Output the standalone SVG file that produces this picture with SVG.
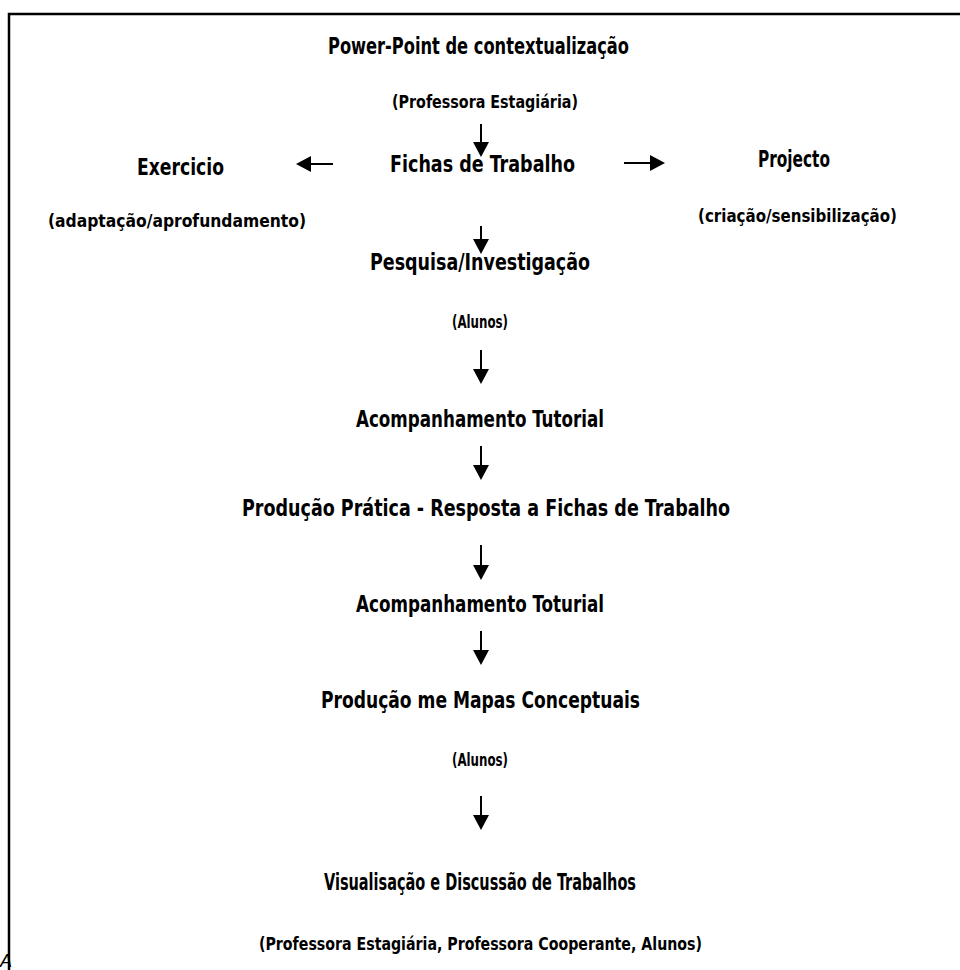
<svg xmlns="http://www.w3.org/2000/svg" width="960" height="970" viewBox="0 0 960 970">
<defs>
<style>
text{font-family:"Liberation Sans Narrow","DejaVu Sans Condensed",sans-serif;font-weight:bold;fill:#000;text-anchor:middle}
.t{font-size:23.5px}
.s{font-size:18px}
.c line{stroke:#000;stroke-width:2}
.c path{fill:#000}
</style>
</defs>
<rect width="960" height="970" fill="#fff"/>
<path d="M9 970 V14 H960" fill="none" stroke="#000" stroke-width="2.5"/>
<text x="0" y="967" style="font-family:'Liberation Sans',sans-serif;font-style:italic;font-weight:normal;font-size:18px;text-anchor:start">A</text>
<g id="n1"><text class="t" x="478.5" y="54" textLength="301" lengthAdjust="spacingAndGlyphs">Power-Point de contextualização</text><text class="s" x="485" y="108" textLength="186" lengthAdjust="spacingAndGlyphs">(Professora Estagiária)</text></g>
<g id="n2"><text class="t" x="482.5" y="172" textLength="185" lengthAdjust="spacingAndGlyphs">Fichas de Trabalho</text></g>
<g id="n3"><text class="t" x="180.5" y="175" textLength="87" lengthAdjust="spacingAndGlyphs">Exercicio</text><text class="s" x="177" y="227" textLength="258" lengthAdjust="spacingAndGlyphs">(adaptação/aprofundamento)</text></g>
<g id="n4"><text class="t" x="794" y="167" textLength="72" lengthAdjust="spacingAndGlyphs">Projecto</text><text class="s" x="797.5" y="222" textLength="199" lengthAdjust="spacingAndGlyphs">(criação/sensibilização)</text></g>
<g id="n5"><text class="t" x="480" y="270" textLength="220" lengthAdjust="spacingAndGlyphs">Pesquisa/Investigação</text><text class="s" x="480" y="328" textLength="56" lengthAdjust="spacingAndGlyphs">(Alunos)</text></g>
<g id="n6"><text class="t" x="480" y="427" textLength="248" lengthAdjust="spacingAndGlyphs">Acompanhamento Tutorial</text></g>
<g id="n7"><text class="t" x="486" y="516" textLength="488" lengthAdjust="spacingAndGlyphs">Produção Prática - Resposta a Fichas de Trabalho</text></g>
<g id="n8"><text class="t" x="480" y="612" textLength="248" lengthAdjust="spacingAndGlyphs">Acompanhamento Toturial</text></g>
<g id="n9"><text class="t" x="480.5" y="708" textLength="319" lengthAdjust="spacingAndGlyphs">Produção me Mapas Conceptuais</text><text class="s" x="480" y="766" textLength="56" lengthAdjust="spacingAndGlyphs">(Alunos)</text></g>
<g id="n10"><text class="t" x="480" y="890" textLength="312" lengthAdjust="spacingAndGlyphs">Visualisação e Discussão de Trabalhos</text><text class="s" x="480.5" y="950" textLength="443" lengthAdjust="spacingAndGlyphs">(Professora Estagiária, Professora Cooperante,  Alunos)</text></g>
<g id="connectors" class="c">
<line x1="481" y1="124" x2="481" y2="143"/><path d="M473 142 H489 L481 157Z"/>
<line x1="481" y1="226" x2="481" y2="240"/><path d="M473 239 H489 L481 254Z"/>
<line x1="481" y1="350" x2="481" y2="370"/><path d="M473 369 H489 L481 384Z"/>
<line x1="481" y1="446" x2="481" y2="466"/><path d="M473 465 H489 L481 480Z"/>
<line x1="481" y1="545" x2="481" y2="566"/><path d="M473 565 H489 L481 580Z"/>
<line x1="481" y1="631" x2="481" y2="651"/><path d="M473 650 H489 L481 665Z"/>
<line x1="481" y1="796" x2="481" y2="816"/><path d="M473 815 H489 L481 830Z"/>
<line x1="333" y1="164" x2="310" y2="164"/><path d="M311 156 V172 L296 164Z"/>
<line x1="624" y1="163" x2="651" y2="163"/><path d="M650 155 V171 L665 163Z"/>
</g>
</svg>
